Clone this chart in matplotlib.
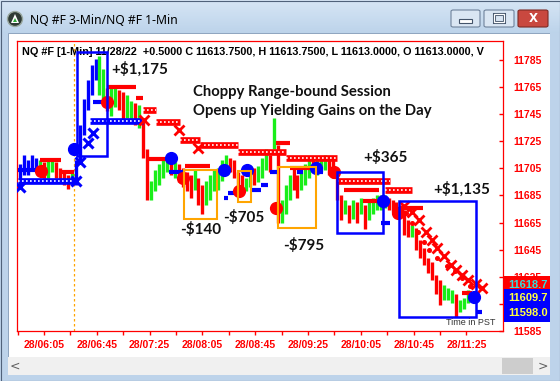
import matplotlib.pyplot as plt
from matplotlib.patches import Rectangle, FancyBboxPatch, Ellipse, Polygon
import matplotlib.transforms as mtransforms
import numpy as np

W, H = 560, 381


def hm(s):
    h, m = s.split(":")
    return int(h) * 60 + int(m)


# ---- NQ #F 3-min bars, 28 Nov 2022 (PST), first bar 05:47 ----
bar_start = "05:47"
bar_high = [11708, 11715, 11711, 11715, 11713, 11711, 11710, 11711, 11713, 11710,
            11705, 11704, 11700, 11704, 11711, 11737, 11756, 11770, 11781, 11786,
            11788, 11778, 11764, 11764, 11766, 11763, 11761, 11759, 11755, 11753,
            11752, 11741, 11719, 11696, 11704, 11708, 11711, 11713, 11711, 11710,
            11708, 11705, 11702, 11700, 11704, 11698, 11693, 11696, 11700, 11704,
            11705, 11711, 11715, 11713, 11711, 11702, 11700, 11698, 11702, 11705,
            11707, 11713, 11719, 11715, 11742, 11722, 11682, 11693, 11700, 11705,
            11700, 11704, 11708, 11711, 11713, 11711, 11713, 11715, 11713, 11711,
            11704, 11685, 11682, 11678, 11682, 11680, 11683, 11678, 11682, 11683,
            11685, 11685, 11685, 11683, 11682, 11680, 11678, 11674, 11667, 11663,
            11661, 11652, 11646, 11639, 11636, 11626, 11623, 11619, 11617, 11615,
            11612, 11608, 11609, 11615]
bar_low = [11693, 11700, 11700, 11704, 11704, 11700, 11698, 11698, 11702, 11698,
           11696, 11693, 11690, 11695, 11693, 11708, 11730, 11748, 11759, 11770,
           11759, 11755, 11747, 11744, 11750, 11748, 11739, 11742, 11739, 11737,
           11735, 11713, 11682, 11682, 11688, 11693, 11698, 11702, 11700, 11698,
           11695, 11691, 11688, 11683, 11689, 11678, 11671, 11678, 11682, 11688,
           11689, 11696, 11700, 11702, 11698, 11685, 11688, 11688, 11691, 11693,
           11695, 11698, 11704, 11702, 11719, 11665, 11665, 11671, 11682, 11689,
           11683, 11689, 11693, 11698, 11702, 11700, 11702, 11704, 11700, 11698,
           11682, 11667, 11671, 11665, 11668, 11665, 11671, 11660, 11667, 11671,
           11674, 11674, 11676, 11674, 11673, 11671, 11671, 11656, 11654, 11654,
           11645, 11639, 11634, 11628, 11623, 11612, 11604, 11608, 11608, 11606,
           11595, 11599, 11601, 11606]
# u = up bar, d = down bar
bar_dir = ("dudududuud" "ddduuuuuuu" "uuduudduud" "udduuuuudu" "ddddudduuu"
           "uuudddduud" "uuududuuud" "duuuduuudd" "ddudududuu" "uuuddddddu"
           "ddddddduuu" "duuu")
blue_bar_spans = [("05:46", "06:00"), ("06:28", "06:45")]

# trailing stop bands (start, end, price)
red_band = [("07:20", "07:30", 11748), ("07:30", "07:48", 11739), ("07:48", "08:03", 11726),
            ("08:03", "08:32", 11722), ("08:32", "09:08", 11717), ("09:08", "09:47", 11713),
            ("09:47", "10:27", 11696), ("10:23", "10:44", 11689)]
blue_band = [("05:45", "06:28", 11696), ("06:40", "07:20", 11740)]

# short level lines
red_levels = [("06:02", "06:18", 11711), ("06:17", "06:28", 11702), ("06:53", "07:15", 11765),
              ("07:15", "07:20", 11757), ("07:24", "07:39", 11712), ("07:52", "08:11", 11707),
              ("09:01", "09:11", 11724), ("09:11", "09:34", 11705), ("09:52", "10:19", 11689),
              ("10:07", "10:17", 11681), ("10:35", "10:52", 11676), ("11:22", "11:29", 11613)]
blue_levels = [("05:45", "05:59", 11704), ("06:42", "06:51", 11754), ("07:40", "07:50", 11702),
               ("08:18", "08:27", 11704), ("08:21", "08:24", 11683), ("08:24", "08:31", 11687),
               ("08:41", "08:49", 11689), ("08:49", "08:55", 11693), ("08:56", "09:02", 11702),
               ("09:17", "09:21", 11702), ("09:32", "09:36", 11702), ("10:20", "10:27", 11665),
               ("11:33", "11:37", 11599)]

# trade signal dots
red_dots = [("06:03", 11703), ("06:53", 11754), ("07:50", 11698), ("08:33", 11688),
            ("09:01", 11676), ("09:45", 11702), ("10:33", 11672)]
blue_dots = [("06:28", 11719), ("07:41", 11713), ("08:21", 11704), ("08:39", 11704),
             ("09:31", 11705), ("10:22", 11681), ("11:31", 11610)]

blue_x = [("05:47", 11691), ("06:29", 11696), ("06:32", 11710), ("06:38", 11724), ("06:42", 11731)]
red_x = [("07:21", 11741), ("07:47", 11733), ("08:02", 11720),
         ("10:38", 11677), ("10:44", 11673), ("10:49", 11667), ("10:54", 11658), ("10:59", 11652),
         ("11:03", 11646), ("11:08", 11640), ("11:13", 11634), ("11:17", 11630), ("11:22", 11626),
         ("11:26", 11623), ("11:32", 11620), ("11:37", 11617)]
red_trail = [("10:39", 11672), ("10:44", 11665), ("10:48", 11658), ("10:53", 11651), ("10:57", 11645),
             ("11:03", 11639), ("11:10", 11633), ("11:16", 11629), ("11:22", 11624), ("11:28", 11618)]

# trade boxes (start, end, low, high)
blue_boxes = [("06:30", "06:53", 11714, 11791), ("09:47", "10:22", 11657, 11702),
              ("10:34", "11:32", 11595, 11681)]
orange_boxes = [("07:51", "08:16", 11668, 11704), ("08:32", "08:42", 11680, 11703),
                ("09:02", "09:31", 11661, 11706)]
pnl_labels = [("+$1,175", "06:56", 11778), ("-$140", "07:48", 11660), ("-$705", "08:21", 11669),
              ("-$795", "09:06", 11648), ("+$365", "10:07", 11713), ("+$1,135", "11:00", 11690)]

last_labels = [("11618.7", "#ff0000", "#33dddd"), ("11609.7", "#0000ff", "#ffff40"),
               ("11598.0", "#0000ff", "#ffff40")]
header = ("NQ #F [1-Min] 11/28/22  +0.5000 C 11613.7500, H 11613.7500, "
          "L 11613.0000, O 11613.0000, V")

RED = "#ff0000"
GREEN = "#19ee19"
BLUE = "#0000ff"
ORANGE = "#ffa500"

fig = plt.figure(figsize=(W / 100, H / 100), dpi=100)
fig.patch.set_facecolor("#bdd3ea")


def frect(x0, y0, x1, y1, **kw):
    p = Rectangle((x0 / W, 1 - y1 / H), (x1 - x0) / W, (y1 - y0) / H,
                  transform=fig.transFigure, **kw)
    fig.add_artist(p)
    return p


# window chrome
tb = fig.add_axes([0, 1 - 33 / H, 1, 33 / H], zorder=-10)
grad = np.linspace(0, 1, 33)[:, None]
c_top = np.array([0.84, 0.90, 0.96])
c_bot = np.array([0.74, 0.83, 0.92])
tb.imshow(c_top + (c_bot - c_top) * grad[:, :, None] * np.ones((1, 2, 1)), aspect="auto")
tb.axis("off")
frect(8, 33, 550, 375, fc="white", ec="#8ea4bf", lw=0.7, zorder=-5)

ax = fig.add_axes([17 / W, 1 - 331 / H, 486 / W, 290 / H])
ax.set_xlim(344.5, 712.7)
ax.set_ylim(11585, 11799)

# price bars
t0 = hm(bar_start)
times, colors = [], []
for i, d in enumerate(bar_dir):
    t = t0 + 3 * i
    times.append(t)
    if any(hm(a) <= t <= hm(b) for a, b in blue_bar_spans):
        colors.append(BLUE)
    else:
        colors.append(GREEN if d == "u" else RED)
ax.vlines(times, bar_low, bar_high, colors=colors, lw=2.4, zorder=2)

# trailing stop bands
for band, col in ((red_band, RED), (blue_band, BLUE)):
    for s, e, p in band:
        ax.plot([hm(s), hm(e)], [p, p], color=col, lw=4.8, solid_capstyle="butt", zorder=3)
        ax.plot([hm(s), hm(e)], [p, p], color="white", lw=1.2, ls=(0, (1, 1.4)), zorder=3.1)

for segs, col in ((red_levels, RED), (blue_levels, BLUE)):
    for s, e, p in segs:
        ax.plot([hm(s), hm(e)], [p, p], color=col, lw=3, solid_capstyle="butt", zorder=3.5)

ax.plot([hm(t) for t, p in red_trail], [p for t, p in red_trail], "o", ms=2.6, color=RED, zorder=3.5)
ax.plot([hm(t) for t, p in red_x], [p for t, p in red_x], "x", ms=6.5, mew=2, color=RED, zorder=3.6)
ax.plot([hm(t) for t, p in blue_x], [p for t, p in blue_x], "x", ms=7.5, mew=2.2, color=BLUE, zorder=3.6)
ax.plot([hm(t) for t, p in red_dots], [p for t, p in red_dots], "o", ms=8.5, color=RED, zorder=4)
ax.plot([hm(t) for t, p in blue_dots], [p for t, p in blue_dots], "o", ms=8.5, color=BLUE, zorder=4)

# session open marker
ax.axvline(hm("06:28"), color=ORANGE, lw=0.9, ls=(0, (2, 2)), zorder=1)

for s, e, lo, hi in blue_boxes:
    ax.add_patch(Rectangle((hm(s), lo), hm(e) - hm(s), hi - lo, fill=False, ec=BLUE, lw=1.8, zorder=6))
for s, e, lo, hi in orange_boxes:
    ax.add_patch(Rectangle((hm(s), lo), hm(e) - hm(s), hi - lo, fill=False, ec=ORANGE, lw=1.5, zorder=6))

for txt, t, p in pnl_labels:
    ax.text(hm(t), p, txt, family="Lato", fontweight="bold", fontsize=11,
            ha="left", va="center", color="#111111", zorder=7)
ax.text(hm("07:58"), 11761, "Choppy Range-bound Session", family="Lato", fontweight="bold",
        fontsize=10.7, ha="left", va="center", color="#111111", zorder=7)
ax.text(hm("07:58"), 11747, "Opens up Yielding Gains on the Day", family="Lato", fontweight="bold",
        fontsize=10.7, ha="left", va="center", color="#111111", zorder=7)

ht = ax.text(0.01, 0.962, header, transform=ax.transAxes, family="Liberation Sans",
             fontweight="bold", fontsize=7.8, ha="left", va="center", zorder=1)
ht.set_clip_path(Rectangle((0, 0), (489 - 17) / 486, 1, transform=ax.transAxes))
ax.text((495 - 17) / 486, 0.03, "Time in PST", transform=ax.transAxes, family="Liberation Sans",
        fontsize=6.5, ha="right", va="center", color="#333333", zorder=7)

# axes styling
for sp in ax.spines.values():
    sp.set_color(RED)
    sp.set_linewidth(0.9)
ax.yaxis.tick_right()
yt = list(range(11585, 11786, 20))
ax.set_yticks(yt)
# the 11605 label sits fully under the last-price boxes
ax.set_yticklabels(["" if v == 11605 else str(v) for v in yt])
xt = list(range(345, 686, 20))
ax.set_xticks(xt)
ax.set_xticklabels(["28/%02d:%02d" % (t // 60, t % 60) if (t - 365) % 40 == 0 else "" for t in xt])
ax.tick_params(axis="y", direction="in", length=3, width=1, color=RED, labelcolor=RED,
               pad=7.2, labelsize=7.5)
ax.tick_params(axis="x", direction="out", length=3, width=1, color=RED, labelcolor=RED,
               pad=3.2, labelsize=7.5)
for lab in ax.get_xticklabels() + ax.get_yticklabels():
    lab.set_family("Liberation Sans")
    lab.set_fontweight("bold")

# last price labels on the right scale
trans = mtransforms.blended_transform_factory(ax.transAxes, ax.transData)
for (txt, bg, fg), p in zip(last_labels, [11618.7, 11609.7, 11598.0]):
    ax.text(1.0103, p, txt, transform=trans, family="Liberation Sans", fontweight="bold",
            fontsize=8, color=fg, ha="left", va="center", clip_on=False, zorder=8,
            bbox=dict(boxstyle="square,pad=0.35", fc=bg, ec="none"))

# scrollbar
frect(8, 357, 550, 375, fc="#f0f0f0", ec="none", zorder=5)
frect(502, 358, 533, 374, fc="#cdcdcd", ec="none", zorder=5)
fig.text(15 / W, 1 - 366 / H, "<", fontsize=9, color="#606060", ha="center", va="center", zorder=6)
fig.text(543 / W, 1 - 366 / H, ">", fontsize=9, color="#606060", ha="center", va="center", zorder=6)

# right and bottom window border over the clipped price labels
frect(550, 33, 560, 381, fc="#bdd3ea", ec="none", zorder=9)
frect(0, 375, 560, 381, fc="#bdd3ea", ec="none", zorder=9)
frect(0.5, 0.5, 559.5, 380.5, fc="none", ec="#50627a", lw=0.8, zorder=10)

# title bar
icon = Ellipse((15 / W, 1 - 19 / H), 15 / W, 15 / H, transform=fig.transFigure,
               fc="#2f3b35", ec="#9aa8a0", lw=1, zorder=6)
fig.add_artist(icon)
fig.add_artist(Polygon([(11 / W, 1 - 23 / H), (19 / W, 1 - 23 / H), (15 / W, 1 - 14 / H)],
                       closed=True, transform=fig.transFigure, fc="white", ec="none", zorder=7))
fig.add_artist(Polygon([(13 / W, 1 - 22 / H), (17 / W, 1 - 22 / H), (15 / W, 1 - 18 / H)],
                       closed=True, transform=fig.transFigure, fc="#2eaa3a", ec="none", zorder=8))
fig.text(30 / W, 1 - 20 / H, "NQ #F 3-Min/NQ #F 1-Min", family="Noto Sans", fontsize=8.8,
         color="black", ha="left", va="center")

for x0, x1, fc, ec in ((451, 480, "#dae6f3", "#6f829b"), (484, 514, "#dae6f3", "#6f829b"),
                       (518, 548, "#c9483f", "#7d2a24")):
    fig.add_artist(FancyBboxPatch((x0 / W, 1 - 27 / H), (x1 - x0) / W, 17 / H,
                                  boxstyle="round,pad=0,rounding_size=0.004",
                                  transform=fig.transFigure, fc=fc, ec=ec, lw=0.8, zorder=6))
frect(459, 19, 472, 23, fc="white", ec="#44546a", lw=0.8, zorder=7)
frect(494, 14, 504, 22, fc="none", ec="#44546a", lw=2.2, zorder=7)
frect(494, 14, 504, 22, fc="none", ec="white", lw=0.9, zorder=7)
fig.text(533 / W, 1 - 18.5 / H, "X", family="DejaVu Sans", fontweight="bold", fontsize=8.5,
         color="white", ha="center", va="center", zorder=8)

fig.savefig("out.png", dpi=100, facecolor=fig.get_facecolor())
